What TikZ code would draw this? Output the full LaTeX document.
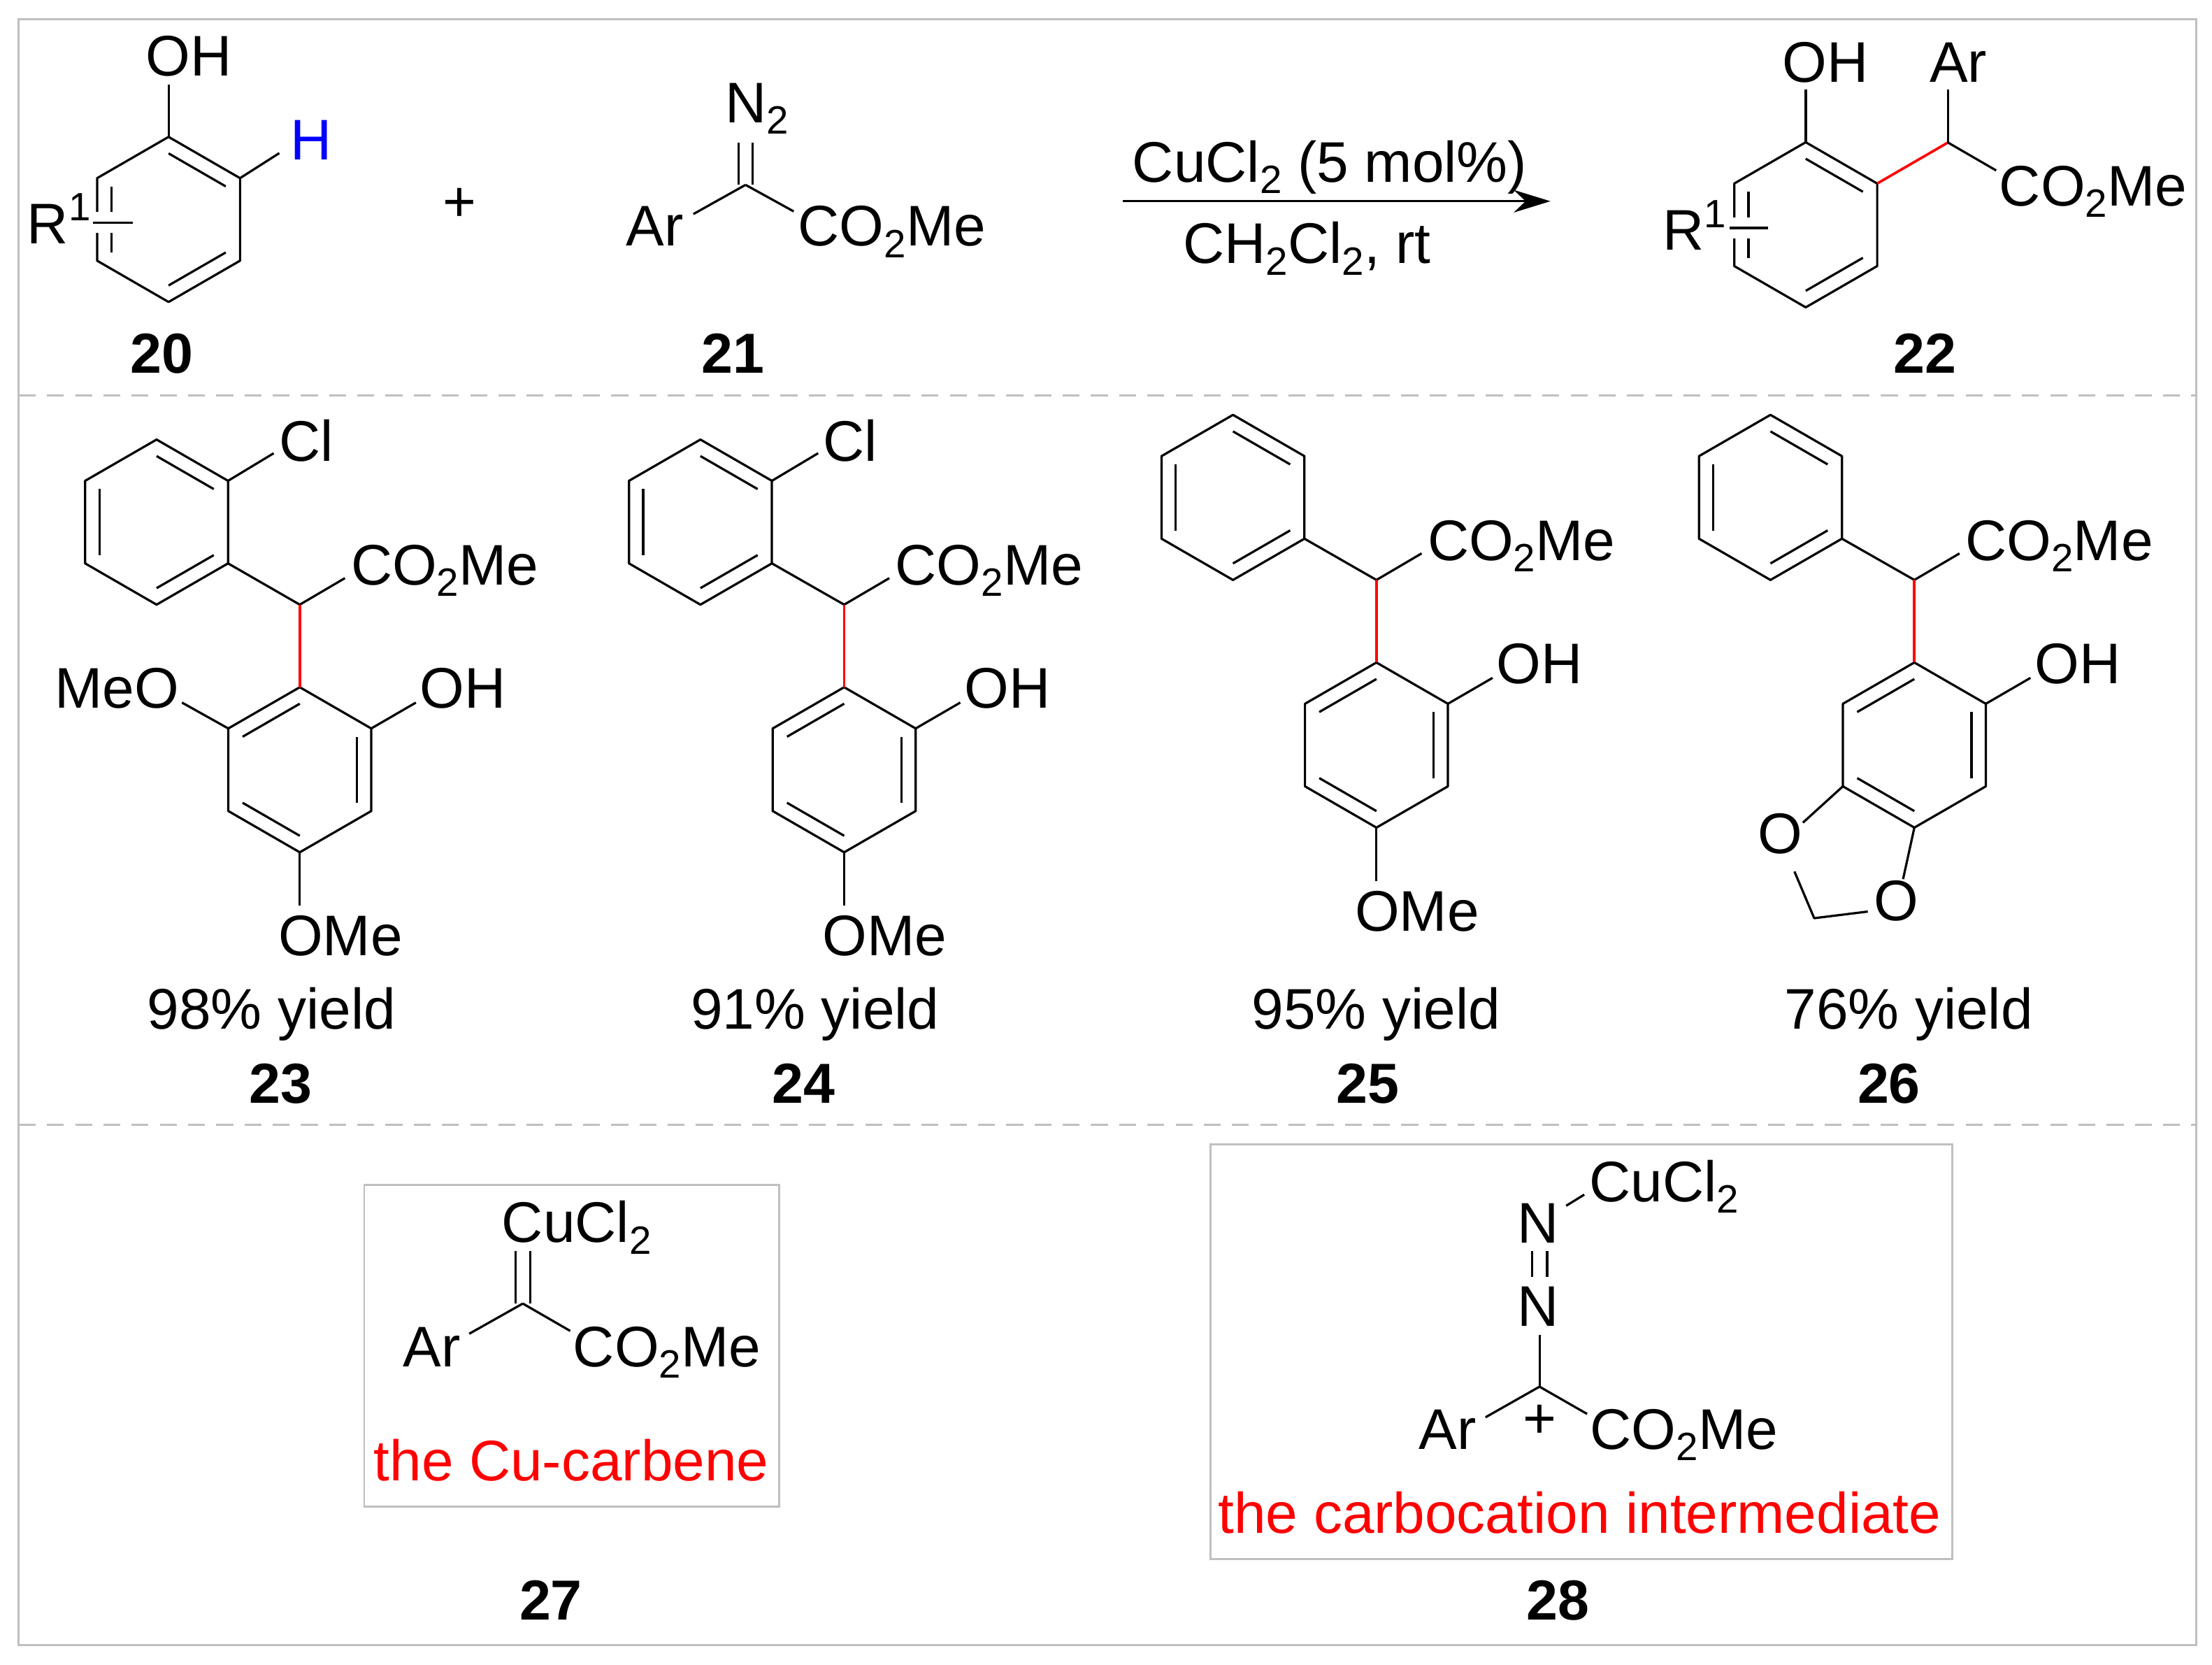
\documentclass[tikz,border=0pt]{standalone}
\usepackage{fontspec}
\setmainfont{Liberation Sans}
\usetikzlibrary{arrows.meta}
\definecolor{framegray}{HTML}{BFBFBF}
\definecolor{pureblue}{HTML}{0000FF}
\definecolor{purered}{HTML}{FF0000}
\newcommand{\subn}[1]{\raisebox{-4pt}{\fontsize{14}{14}\selectfont #1}}
\newcommand{\supn}[1]{\raisebox{8pt}{\fontsize{14}{14}\selectfont #1}}
\newcommand{\dblA}{1/2,3/4,5/6}
\newcommand{\dblB}{2/3,4/5,6/1}
\newcommand{\benzring}[4]{%
    \foreach \i in {1,...,6} {
        \coordinate (#1\i) at ({#2+58.5*sin(60*(\i-1))},{#3-58.5*cos(60*(\i-1))});
        \coordinate (#1i\i) at ({#2+46.8*sin(60*(\i-1))},{#3-46.8*cos(60*(\i-1))});
    }
    \draw[bond] (#11) -- (#12) -- (#13) -- (#14) -- (#15) -- (#16) -- cycle;
    \foreach \a/\b in #4 {
        \draw[bond] (#1i\a) -- (#1i\b);
    }
}

\begin{document}
\begin{tikzpicture}[x=0.5pt, y=-0.5pt,
        bond/.style={line width=0.8pt, line join=round},
        redbond/.style={line width=0.9pt, purered},
        atom/.style={inner sep=0pt, anchor=base west, xshift=-0.8pt, font=\fontsize{20.3}{24}\selectfont},
        mid/.style={inner sep=0pt, anchor=base, font=\fontsize{20.3}{24}\selectfont},
        cmpd/.style={inner sep=0pt, anchor=base, font=\fontsize{20}{24}\selectfont\bfseries},
        note/.style={inner sep=0pt, anchor=base, text=purered, font=\fontsize{20.3}{24}\selectfont},
        arrow/.style={-{Stealth[length=13pt, width=8pt]}, line width=0.8pt},
        frame/.style={draw=framegray, line width=0.7pt},
        sep/.style={draw=framegray, line width=0.7pt, dash pattern=on 6pt off 4pt}
    ]
    \useasboundingbox (0,0) rectangle (1568,1179.5);
    \draw[frame] (13.3,13.7) rectangle (1557,1166);
    \draw[sep] (13.3,280.2) -- (1557,280.2);
    \draw[sep] (13.3,797.3) -- (1557,797.3);

    % Phenol 20
    \benzring{rA}{119.5}{155.5}{\dblA}
    \fill[white] (62,150) rectangle (86,165);
    \coordinate (rAsubl) at (66,157.7);
    \coordinate (rAsubr) at (94,157.7);
    \draw[bond] (rAsubl) -- (rAsubr);
    \coordinate (rAoh) at (119.5,60);
    \coordinate (rAh) at (198,108.5);
    \draw[bond] (rA1) -- (rAoh);
    \draw[bond] (rA2) -- (rAh);
    \node[mid] (oh20) at (134,54) {OH};
    \node[atom, text=pureblue] (h20) at (207,113) {H};
    \node[atom] (r20) at (20.5,172.5) {R\supn{1}};
    \node[cmpd] (lbl20) at (114.7,264.5) {20};
    \node[mid] (plus) at (325.6,157) {+};

    % Diazo ester 21
    \coordinate (c21) at (528.5,131);
    \coordinate (n21end) at (528.5,101);
    \coordinate (ar21end) at (491.5,151.7);
    \coordinate (co21end) at (562.6,149.8);
    \draw[bond] ([xshift=-2.5pt]c21) -- ([xshift=-2.5pt]n21end);
    \draw[bond] ([xshift=2.5pt]c21) -- ([xshift=2.5pt]n21end);
    \draw[bond] (c21) -- (ar21end);
    \draw[bond] (c21) -- (co21end);
    \node[atom] (n21) at (515.5,87) {N\subn{2}};
    \node[atom] (ar21) at (445,174.4) {Ar};
    \node[atom] (co21) at (567,174.4) {CO\subn{2}Me};
    \node[cmpd] (lbl21) at (519.5,264.5) {21};

    % Arrow
    \coordinate (arrowa) at (796,142.6);
    \coordinate (arrowb) at (1099,142.6);
    \draw[arrow] (arrowa) -- (arrowb);
    \node[atom] (cat) at (804,129) {CuCl\subn{2} (5 mol\%)};
    \node[atom] (solv) at (840,186.8) {CH\subn{2}Cl\subn{2}, rt};

    % Product 22
    \benzring{rC}{1280}{159.3}{\dblA}
    \fill[white] (1222,154) rectangle (1246,169);
    \coordinate (rCsubl) at (1226,161.5);
    \coordinate (rCsubr) at (1253.5,161.5);
    \draw[bond] (rCsubl) -- (rCsubr);
    \coordinate (rCoh) at (1280,63.5);
    \coordinate (ch22) at (1380.8,101);
    \coordinate (ar22end) at (1380.8,63.5);
    \coordinate (co22end) at (1415,120.8);
    \draw[bond] (rC1) -- (rCoh);
    \draw[redbond] (rC2) -- (ch22);
    \draw[bond] (ch22) -- (ar22end);
    \draw[bond] (ch22) -- (co22end);
    \node[mid] (oh22) at (1294,58) {OH};
    \node[atom] (ar22) at (1369,58) {Ar};
    \node[atom] (co22) at (1418.5,146) {CO\subn{2}Me};
    \node[atom] (r22) at (1180,177.3) {R\supn{1}};
    \node[cmpd] (lbl22) at (1364.5,264.5) {22};

    % Products 23 to 26, common part
    \foreach \n/\ux/\uy/\lx in {23/111/370/212.5, 24/496.5/370/598.4, 25/874/352.5/975.7, 26/1255/352.5/1357} {
        \benzring{up\n}{\ux}{\uy}{\dblA}
        \benzring{lo\n}{\lx}{\uy+175.5}{\dblB}
        \coordinate (ch\n) at (\lx,{\uy+58.5});
        \coordinate (co\n end) at ({\lx+32},{\uy+39.7});
        \coordinate (oh\n end) at ({\lx+82.3},{\uy+127.9});
        \draw[bond] (up\n3) -- (ch\n);
        \draw[bond] (ch\n) -- (co\n end);
        \draw[redbond] (ch\n) -- (lo\n1);
        \draw[bond] (lo\n2) -- (oh\n end);
        \node[atom] (co\n) at ({\lx+37.5},{\uy+44.7}) {CO\subn{2}Me};
        \node[atom] (oh\n) at ({\lx+86.5},{\uy+131.7}) {OH};
    }
    \foreach \n/\uy/\lx in {23/370/212.5, 24/370/598.4, 25/352.5/975.7} {
        \coordinate (ome\n end) at (\lx,{\uy+271.9});
        \draw[bond] (lo\n4) -- (ome\n end);
        \node[atom] (ome\n) at ({\lx-14},{\uy+307.4}) {OMe};
    }
    \foreach \n/\lx in {23/212.5, 24/598.4} {
        \coordinate (cl\n end) at ({\lx-18.5},321.2);
        \draw[bond] (up\n2) -- (cl\n end);
        \node[atom] (cl\n) at ({\lx-13.5},326.7) {Cl};
    }
    \foreach \n/\y/\yx/\lx in {23/98/192.5/198.8, 24/91/577.8/569.6, 25/95/975.5/969.7, 26/76/1353/1339} {
        \node[mid] (yield\n) at (\yx,729) {\y\% yield};
        \node[cmpd] (lbl\n) at (\lx,782) {\n};
    }

    % Extras of 23 and 26
    \coordinate (meo23end) at (129,497.9);
    \draw[bond] (lo236) -- (meo23end);
    \node[atom] (meo23) at (40,501.7) {MeO};
    \node[mid] (oa26) at (1262,605) {O};
    \node[mid] (ob26) at (1344,652.5) {O};
    \coordinate (oa26a) at (1278,583);
    \coordinate (oa26b) at (1272,617.6);
    \coordinate (ch226) at (1286,650.7);
    \coordinate (ob26a) at (1324,646);
    \coordinate (ob26b) at (1349,623);
    \draw[bond] (lo265) -- (oa26a);
    \draw[bond] (oa26b) -- (ch226) -- (ob26a);
    \draw[bond] (lo264) -- (ob26b);

    % Cu-carbene 27
    \draw[frame] (258.2,839.7) rectangle (552.5,1067.6);
    \coordinate (c27) at (370.6,923.8);
    \coordinate (cu27end) at (370.6,886.6);
    \coordinate (ar27end) at (332.6,945.2);
    \coordinate (co27end) at (404.2,943.2);
    \draw[bond] ([xshift=-2.55pt]c27) -- ([xshift=-2.55pt]cu27end);
    \draw[bond] ([xshift=2.55pt]c27) -- ([xshift=2.55pt]cu27end);
    \draw[bond] (c27) -- (ar27end);
    \draw[bond] (c27) -- (co27end);
    \node[atom] (cu27) at (357,880.6) {CuCl\subn{2}};
    \node[atom] (ar27) at (287,968.5) {Ar};
    \node[atom] (co27) at (407.5,968.5) {CO\subn{2}Me};
    \node[note] (txt27) at (404.9,1049.4) {the Cu-carbene};
    \node[cmpd] (lbl27) at (390.5,1148) {27};

    % Carbocation 28
    \draw[frame] (858,810.9) rectangle (1383.9,1104.7);
    \coordinate (c28) at (1091.3,982.7);
    \coordinate (nb28) at (1091.3,946);
    \coordinate (azoa) at (1091.3,886.6);
    \coordinate (azob) at (1091.3,905);
    \coordinate (nacu) at (1110.2,854.5);
    \coordinate (cuend) at (1123,846.6);
    \coordinate (ar28end) at (1053,1004.4);
    \coordinate (co28end) at (1125,1002);
    \draw[bond] (c28) -- (nb28);
    \draw[bond] ([xshift=-2.7pt]azoa) -- ([xshift=-2.7pt]azob);
    \draw[bond] ([xshift=2.7pt]azoa) -- ([xshift=2.7pt]azob);
    \draw[bond] (nacu) -- (cuend);
    \draw[bond] (c28) -- (ar28end);
    \draw[bond] (c28) -- (co28end);
    \node[mid] (na28) at (1090.3,881) {N};
    \node[mid] (nb28t) at (1090.3,939.6) {N};
    \node[atom] (cu28) at (1128,851.6) {CuCl\subn{2}};
    \node[atom] (ar28) at (1007,1027) {Ar};
    \node[atom] (co28) at (1128.5,1027) {CO\subn{2}Me};
    \node[mid] (plus28) at (1091.3,1019) {+};
    \node[note] (txt28) at (1119.7,1086.7) {the carbocation intermediate};
    \node[cmpd] (lbl28) at (1104.5,1148) {28};
\end{tikzpicture}
\end{document}
